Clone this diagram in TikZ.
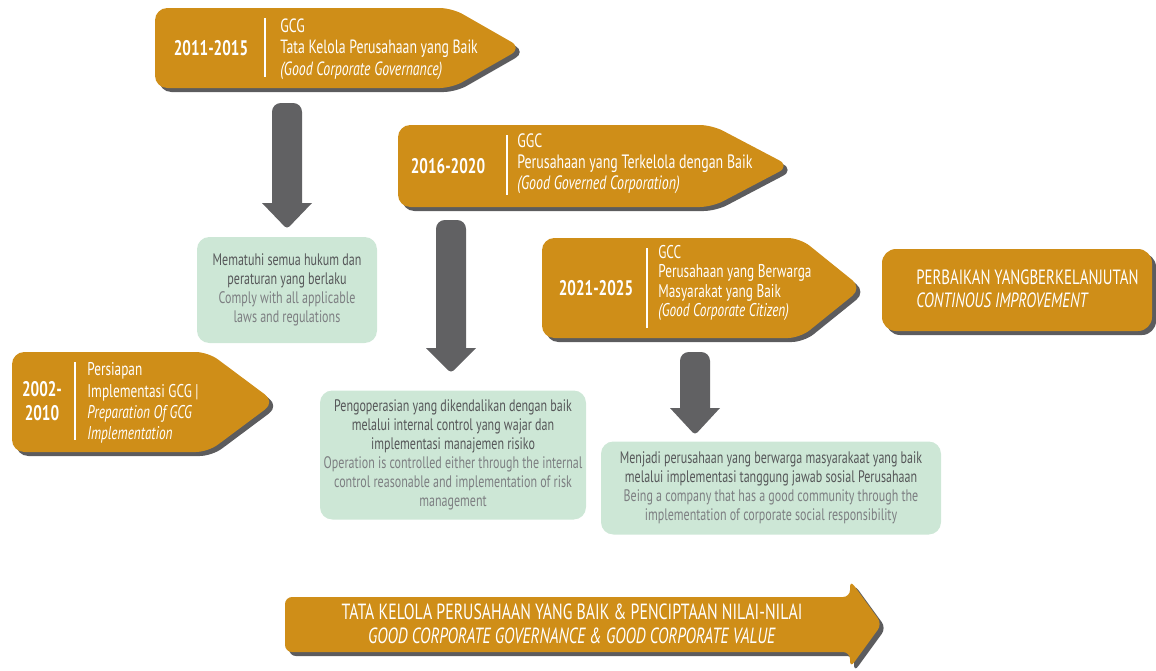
\documentclass[tikz,border=0pt]{standalone}
\usepackage{fontspec}
\setmainfont{PT Sans}[FakeStretch=0.72]
\usetikzlibrary{positioning}
\definecolor{govgold}{RGB}{207,142,24}
\definecolor{govshadow}{RGB}{92,92,94}
\definecolor{govgreen}{RGB}{205,231,214}
\definecolor{govgray}{RGB}{97,97,99}
\definecolor{darktext}{RGB}{86,87,89}
\definecolor{lighttext}{RGB}{125,127,130}

% banner: left, top, bottom, body right, tip
\newcommand{\banner}[5]{%
  \fill[govshadow, rounded corners=7pt, shift={(4,4)}] (#4,#2) -- (#1,#2) -- (#1,#3) -- (#4,#3) -- (#5,{(#2+#3)/2}) -- cycle;
  \fill[govgold, rounded corners=7pt] (#4,#2) -- (#1,#2) -- (#1,#3) -- (#4,#3) -- (#5,{(#2+#3)/2}) -- cycle;
}
% down arrow: centre x, top, shaft bottom, tip
\newcommand{\downarrowshape}[4]{%
  \fill[govgray] (#1-25,#3) -- (#1-15,#3) [rounded corners=5pt] -- (#1-15,#2) -- (#1+15,#2) [sharp corners] -- (#1+15,#3) -- (#1+25,#3) [rounded corners=2pt] -- (#1,#4) [sharp corners] -- cycle;
}

\begin{document}
\begin{tikzpicture}[x=0.02cm, y=-0.02cm,
  year/.style={text=white, font=\fontsize{12}{13.5}\selectfont\bfseries, align=center},
  info/.style={text=white, anchor=west, align=left, inner sep=0pt},
  divider/.style={white, line width=1.4pt},
  note/.style={fill=govgreen, rounded corners=7pt, align=center, text=darktext, font=\fontsize{9.5}{10.8}\selectfont, inner sep=0pt},
  motto/.style={text=white, align=center, font=\fontsize{12.5}{13.6}\selectfont}]
\useasboundingbox (0,0) rectangle (1156,670);

% green notes
\node[note, minimum width=180*0.02cm, minimum height=106*0.02cm] (comply) at (287,290)
  {Mematuhi semua hukum dan\\peraturan yang berlaku\\\textcolor{lighttext}{Comply with all applicable}\\\textcolor{lighttext}{laws and regulations}};
\node[note, minimum width=266*0.02cm, minimum height=129*0.02cm] (control) at (453,455)
  {Pengoperasian yang dikendalikan dengan baik\\melalui internal control yang wajar dan\\implementasi manajemen risiko\\\textcolor{lighttext}{Operation is controlled either through the internal}\\\textcolor{lighttext}{control reasonable and implementation of risk}\\\textcolor{lighttext}{management}};
\node[note, minimum width=340*0.02cm, minimum height=93*0.02cm] (citizen) at (771,488)
  {Menjadi perusahaan yang berwarga masyarakaat yang baik\\melalui implementasi tanggung jawab sosial Perusahaan\\\textcolor{lighttext}{Being a company that has a good community through the}\\\textcolor{lighttext}{implementation of corporate social responsibility}};

% gray arrows
\downarrowshape{287}{103}{203}{229}
\downarrowshape{451}{220}{348}{373}
\downarrowshape{695}{352}{408}{435}

% 2011-2015
\banner{155}{8}{88}{452}{522}
\node[year] (y2011) at (211,48) {2011-2015};
\draw[divider] (265,18) -- (265,77);
\node[info, font=\fontsize{10.9}{12.2}\selectfont] (t2011) at (280,49) {GCG\\Tata Kelola Perusahaan yang Baik\\\textit{(Good Corporate Governance)}};

% 2016-2020
\banner{398}{125}{207}{712}{790}
\node[year] (y2016) at (448,166) {2016-2020};
\draw[divider] (507,135) -- (507,195);
\node[info, font=\fontsize{11}{11.9}\selectfont] (t2016) at (517,164) {GGC\\Perusahaan yang Terkelola dengan Baik\\\textit{(Good Governed Corporation)}};

% 2021-2025
\banner{542}{238}{338}{800}{862}
\node[year] (y2021) at (596,288) {2021-2025};
\draw[divider] (647,248) -- (647,328);
\node[info, font=\fontsize{10.5}{11}\selectfont] (t2021) at (658,283) {GCC\\Perusahaan yang Berwarga\\Masyarakat yang Baik\\\textit{(Good Corporate Citizen)}};

% 2002-2010
\banner{12}{352}{452}{208}{275}
\node[year] (y2002) at (42,401) {2002-\\2010};
\draw[divider] (75,362) -- (75,440);
\node[info, font=\fontsize{10.5}{12.1}\selectfont] (t2002) at (87,403) {Persiapan\\Implementasi GCG |\\\textit{Preparation Of GCG}\\\textit{Implementation}};

% continuous improvement
\fill[govshadow, rounded corners=8pt] (886,253) rectangle (1156,335);
\fill[govgold, rounded corners=8pt] (882,249) rectangle (1152,331);
\node[info, font=\fontsize{11.75}{13}\selectfont] (improve) at (916,289) {PERBAIKAN YANGBERKELANJUTAN\\\textit{CONTINOUS IMPROVEMENT}};

% bottom arrow
\fill[govshadow, rounded corners=4pt, shift={(4,4)}] (285,597) -- (850,597) -- (850,580) -- (882,624) -- (850,668) -- (850,652) -- (285,652) -- cycle;
\fill[govgold, rounded corners=4pt] (285,597) -- (850,597) -- (850,580) -- (882,624) -- (850,668) -- (850,652) -- (285,652) -- cycle;
\node[motto] (value) at (572,624) {TATA KELOLA PERUSAHAAN YANG BAIK \& PENCIPTAAN NILAI-NILAI\\\textit{GOOD CORPORATE GOVERNANCE \& GOOD CORPORATE VALUE}};
\end{tikzpicture}
\end{document}
